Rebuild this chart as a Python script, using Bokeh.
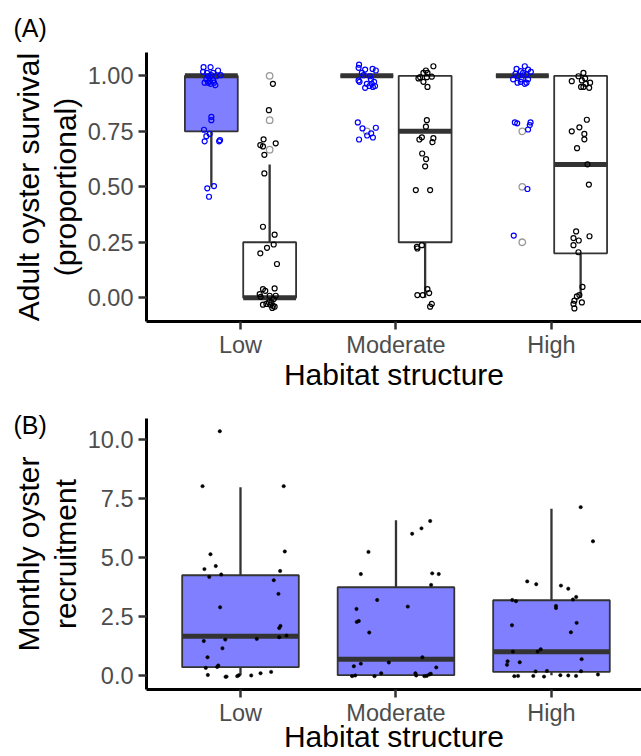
import numpy as np
from bokeh.plotting import figure
from bokeh.models import Range1d, FixedTicker, Title, PrintfTickFormatter
from bokeh.layouts import column
from bokeh.embed import file_html
from bokeh.resources import INLINE

# ---------------- data ----------------
habitat = ["Low", "Moderate", "High"]

# Panel A: adult oyster survival, two treatments per habitat (blue, white)
a_blue_q1 = [0.75, 1.00, 1.00]
a_blue_med = [1.00, 1.00, 1.00]
a_blue_q3 = [1.00, 1.00, 1.00]
a_blue_lo = [0.50, 1.00, 1.00]
a_blue_hi = [1.00, 1.00, 1.00]

a_white_q1 = [0.00, 0.25, 0.20]
a_white_med = [0.00, 0.75, 0.60]
a_white_q3 = [0.25, 1.00, 1.00]
a_white_lo = [0.00, 0.00, 0.00]
a_white_hi = [0.60, 1.00, 1.00]

a_blue_out_cat = ["Moderate", "High", "High", "High"]
a_blue_out_val = [0.75, 0.75, 0.50, 0.25]
a_white_out_cat = ["Low", "Low", "Low"]
a_white_out_val = [1.00, 0.80, 0.667]

# jittered observations (value, horizontal jitter in category units)
a_low_blue = [1.039, 1.039, 1.024, 1.018, 1.013, 1.013, 1.003, 0.998, 1.003, 0.998, 0.984, 0.976, 0.979,
              0.969, 0.969, 0.958, 0.964, 0.969, 0.815, 0.800, 0.757, 0.738, 0.728, 0.705, 0.705, 0.710,
              0.503, 0.493, 0.455]
a_low_blue_j = [-0.050, -0.005, 0.043, -0.053, -0.028, 0.011, 0.060, -0.021, 0.000, 0.032, -0.032, -0.011, 0.011,
                -0.043, -0.021, 0.026, -0.005, 0.017, 0.000, 0.000, -0.047, -0.011, -0.032, -0.043, 0.050, 0.056,
                0.017, -0.026, -0.015]
a_low_white = [0.964, 0.845, 0.714, 0.696, 0.688, 0.682, 0.644, 0.560, 0.320, 0.284, 0.225, 0.240, 0.200, 0.152,
               0.039, 0.031, 0.042, 0.016, 0.004, 0.009, 0.009, -0.031, -0.028, -0.021, -0.021, -0.036, -0.040,
               -0.046, -0.031, -0.006]
a_low_white_j = [0.021, -0.005, -0.039, 0.039, -0.060, -0.043, -0.034, -0.034, -0.043, 0.032, -0.017, 0.026, -0.060,
                 0.047, -0.043, -0.028, 0.032, -0.064, -0.058, 0.039, 0.000, -0.043, -0.021, -0.005, 0.011, 0.021,
                 0.032, 0.017, 0.005, 0.026]
a_mod_blue = [1.050, 1.036, 1.028, 1.031, 1.024, 1.013, 1.003, 0.998, 0.979, 0.973, 0.984, 0.964, 0.964, 0.973,
              0.954, 0.946, 0.950, 0.954, 0.790, 0.763, 0.766, 0.731, 0.741, 0.722, 0.713]
a_mod_blue_j = [-0.050, -0.053, -0.011, 0.037, 0.058, -0.032, -0.021, 0.021, -0.053, -0.047, 0.026, 0.000, 0.032,
                0.047, 0.017, -0.011, 0.039, 0.053, -0.058, -0.028, 0.058, 0.002, 0.028, 0.039, -0.050]
a_mod_white = [1.043, 1.024, 1.013, 1.013, 0.994, 0.988, 0.994, 0.996, 0.973, 0.950, 0.800, 0.771, 0.723, 0.713,
               0.719, 0.701, 0.650, 0.625, 0.592, 0.485, 0.485, 0.237, 0.229, 0.222, 0.039, 0.012, 0.012, 0.021,
               -0.028, -0.040]
a_mod_white_j = [0.053, 0.005, -0.011, 0.015, -0.032, -0.043, 0.011, 0.043, -0.011, 0.015, 0.011, 0.005, -0.021,
                 -0.037, 0.053, 0.047, -0.019, 0.006, 0.000, -0.060, 0.032, -0.021, -0.053, -0.050, 0.015, -0.050,
                 -0.015, 0.026, 0.043, 0.032]
a_high_blue = [1.043, 1.031, 1.028, 1.021, 1.018, 1.013, 1.009, 1.006, 0.998, 0.984, 0.984, 0.984, 0.969, 0.964,
               0.973, 0.969, 0.790, 0.786, 0.790, 0.778, 0.758, 0.490, 0.280]
a_high_blue_j = [0.016, -0.037, 0.037, -0.010, 0.055, 0.005, -0.044, 0.027, -0.027, -0.059, -0.005, 0.037, -0.031,
                 0.016, -0.010, 0.027, -0.048, -0.033, 0.053, 0.048, 0.037, 0.033, -0.055]
a_high_white = [1.013, 0.998, 0.988, 0.976, 0.979, 0.969, 0.964, 0.950, 0.950, 0.946, 0.802, 0.768, 0.750, 0.738,
                0.714, 0.674, 0.601, 0.510, 0.299, 0.269, 0.258, 0.277, 0.237, 0.205, 0.049, 0.012, 0.006, -0.013,
                -0.021, -0.028, -0.048]
a_high_white_j = [0.018, -0.014, 0.029, -0.057, 0.008, 0.061, 0.033, 0.003, 0.018, 0.055, 0.040, -0.008, -0.057,
                  0.024, 0.024, -0.023, 0.044, 0.053, -0.029, -0.046, -0.012, 0.057, -0.046, -0.014, 0.012, -0.008,
                  -0.024, -0.040, 0.008, -0.046, -0.040]

# Panel B: monthly oyster recruitment
b_q1 = [0.34, 0.00, 0.14]
b_med = [1.65, 0.68, 0.99]
b_q3 = [4.24, 3.73, 3.18]
b_lo = [0.00, 0.00, 0.00]
b_hi = [7.97, 6.57, 7.06]

b_low = [10.35, 8.02, 8.02, 5.13, 5.25, 4.63, 4.50, 4.42, 4.17, 4.27, 4.03, 3.45, 2.88, 2.09, 2.00, 1.68, 1.61,
         1.54, 1.51, 1.45, 1.14, 0.76, 0.41, 0.35, 0.31, 0.01, -0.07, -0.06, -0.04, 0.00, -0.01, 0.08, 0.14]
b_low_j = [-0.133, -0.244, 0.278, -0.193, 0.285, -0.159, -0.232, 0.255, -0.201, -0.124, 0.214, 0.244, -0.131,
           0.257, 0.249, 0.296, 0.249, 0.105, -0.098, -0.236, -0.116, -0.212, -0.143, -0.150, -0.223, -0.210,
           -0.096, -0.090, -0.021, -0.011, 0.069, 0.129, 0.197]
b_mod = [6.54, 6.23, 6.00, 5.23, 4.29, 4.32, 4.29, 3.83, 3.19, 2.91, 2.81, 2.30, 2.26, 1.81, 0.76, 0.49, 0.54,
         0.38, 0.33, 0.08, 0.08, 0.06, -0.04, -0.01, -0.04, -0.01, -0.04, -0.03, 0.03]
b_mod_j = [0.220, 0.164, 0.104, -0.177, -0.226, 0.233, 0.275, 0.226, -0.121, 0.076, -0.254, -0.239, -0.252,
           -0.172, 0.170, -0.226, -0.046, -0.271, 0.259, -0.095, 0.125, 0.224, -0.282, -0.262, -0.138, 0.130,
           0.183, 0.198, 0.214]
b_high = [7.13, 5.68, 3.98, 3.86, 3.80, 3.67, 3.32, 3.21, 3.19, 3.14, 2.94, 2.85, 2.12, 2.22, 1.82, 1.00, 1.00,
          1.10, 0.68, 0.55, 0.59, 0.44, 0.18, 0.16, 0.17, 0.03, -0.04, -0.03, -0.03, -0.06, 0.00, -0.01, -0.03]
b_high_j = [0.188, 0.267, -0.156, -0.098, 0.061, 0.108, 0.159, 0.138, -0.252, -0.228, 0.029, 0.029, -0.254,
            0.162, 0.125, -0.248, -0.089, -0.069, 0.194, -0.204, -0.282, -0.286, -0.029, -0.102, 0.190, 0.299,
            -0.239, -0.215, -0.117, -0.048, 0.057, 0.108, 0.158]

# ---------------- styling ----------------
FONT = "Liberation Sans"
TICK_SIZE = "23.5px"
TITLE_SIZE = "30px"
TAG_SIZE = "25px"
DARK = "#333333"
BLUE_FILL = "#7F7FFF"
pos = {h: i + 1 for i, h in enumerate(habitat)}
cat = np.array([pos[h] for h in habitat], dtype=float)
DODGE = 0.1875
A_BOX_W = 0.34
B_BOX_W = 0.75


def base_fig(height, top, bottom, yr, yticks, fmt, ylab_outer, ylab_inner, tag, tag_standoff, xlab_standoff):
    p = figure(width=641, height=height, output_backend="svg", toolbar_location=None,
               x_range=Range1d(0.3955, 3.579), y_range=Range1d(*yr),
               min_border_left=146, min_border_right=0, min_border_top=top, min_border_bottom=bottom)
    p.outline_line_color = None
    p.grid.visible = False
    p.background_fill_color = "white"
    p.border_fill_color = "white"
    for ax in (p.xaxis[0], p.yaxis[0]):
        ax.axis_line_color = "black"
        ax.axis_line_width = 3
        ax.major_tick_line_color = DARK
        ax.major_tick_line_width = 2.5
        ax.major_tick_out = 8
        ax.major_tick_in = 0
        ax.minor_tick_line_color = None
        ax.major_label_text_font = FONT
        ax.major_label_text_font_size = TICK_SIZE
        ax.major_label_text_color = "#4D4D4D"
        ax.axis_label_text_font = FONT
        ax.axis_label_text_font_size = TITLE_SIZE
        ax.axis_label_text_font_style = "normal"
        ax.axis_label_text_color = "black"
    p.xaxis.ticker = FixedTicker(ticks=list(cat))
    p.xaxis.major_label_overrides = {int(pos[h]): h for h in habitat}
    p.xaxis.major_label_standoff = 2
    p.xaxis.axis_label = "Habitat structure"
    p.xaxis.axis_label_standoff = xlab_standoff
    p.yaxis.ticker = FixedTicker(ticks=yticks)
    p.yaxis.formatter = PrintfTickFormatter(format=fmt)
    p.yaxis.major_label_standoff = 5
    p.yaxis.axis_label = ylab_inner
    p.yaxis.axis_label_standoff = 3
    p.add_layout(Title(text=ylab_outer, align="center", standoff=2, text_font=FONT,
                       text_font_size=TITLE_SIZE, text_font_style="normal", text_color="black"), "left")
    p.add_layout(Title(text=tag, align="left", offset=-133, standoff=tag_standoff, text_font=FONT,
                       text_font_size=TAG_SIZE, text_font_style="normal", text_color="black"), "above")
    return p


def boxes(p, centers, q1, med, q3, lo, hi, w, fill):
    centers = np.asarray(centers, dtype=float)
    p.segment(x0=centers, y0=q3, x1=centers, y1=hi, line_color=DARK, line_width=2.3)
    p.segment(x0=centers, y0=q1, x1=centers, y1=lo, line_color=DARK, line_width=2.3)
    p.quad(left=centers - w / 2, right=centers + w / 2, bottom=q1, top=q3,
           fill_color=fill, line_color=DARK, line_width=1.8)
    p.segment(x0=centers - w / 2, y0=med, x1=centers + w / 2, y1=med, line_color=DARK, line_width=5)


# ---------------- panel A ----------------
pA = base_fig(393, 50, 72, (-0.107, 1.105), [0, 0.25, 0.5, 0.75, 1.0], "%.2f",
              "Adult oyster survival", "(proportional)", "(A)", 22, -3)
boxes(pA, cat - DODGE, a_blue_q1, a_blue_med, a_blue_q3, a_blue_lo, a_blue_hi, A_BOX_W, BLUE_FILL)
boxes(pA, cat + DODGE, a_white_q1, a_white_med, a_white_q3, a_white_lo, a_white_hi, A_BOX_W, "white")
pA.scatter(x=[pos[c] - DODGE for c in a_blue_out_cat], y=a_blue_out_val, size=6.5, marker="circle",
           fill_color=None, line_color="#999999", line_width=1.3)
pA.scatter(x=[pos[c] + DODGE for c in a_white_out_cat], y=a_white_out_val, size=6.5, marker="circle",
           fill_color=None, line_color="#999999", line_width=1.3)

groups_A = [
    ("Low", -DODGE, a_low_blue, a_low_blue_j, "blue"),
    ("Low", DODGE, a_low_white, a_low_white_j, "black"),
    ("Moderate", -DODGE, a_mod_blue, a_mod_blue_j, "blue"),
    ("Moderate", DODGE, a_mod_white, a_mod_white_j, "black"),
    ("High", -DODGE, a_high_blue, a_high_blue_j, "blue"),
    ("High", DODGE, a_high_white, a_high_white_j, "black"),
]
for h, off, vals, jit, col in groups_A:
    xs = [pos[h] + off + j for j in jit]
    pA.scatter(x=xs, y=vals, size=5, marker="circle", fill_color=None, line_color=col, line_width=1.2)

# ---------------- panel B ----------------
pB = base_fig(363, 25, 67, (-0.607, 10.89), [0, 2.5, 5, 7.5, 10], "%.1f",
              "Monthly oyster", "recruitment", "(B)", -40, -9)
boxes(pB, cat, b_q1, b_med, b_q3, b_lo, b_hi, B_BOX_W, BLUE_FILL)
for h, vals, jit in [("Low", b_low, b_low_j), ("Moderate", b_mod, b_mod_j), ("High", b_high, b_high_j)]:
    xs = [pos[h] + j for j in jit]
    pB.scatter(x=xs, y=vals, size=3.4, marker="circle", fill_color="black", line_color="black", line_width=0.5)

layout = column(pA, pB, spacing=0)
open("out.html", "w").write(file_html(layout, INLINE))
